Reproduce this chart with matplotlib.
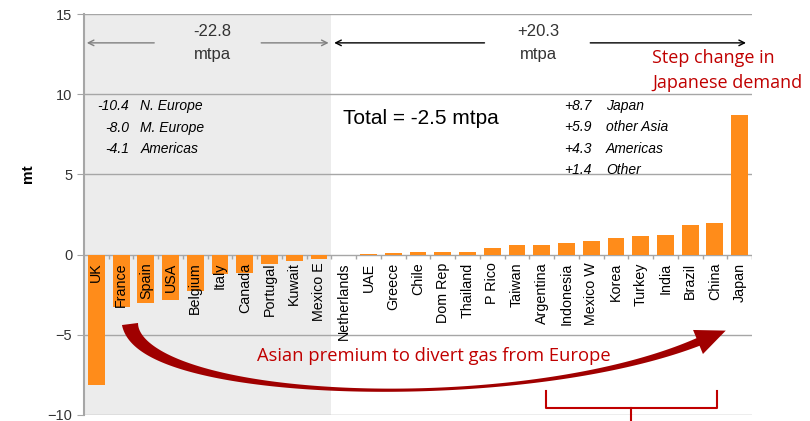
import matplotlib
matplotlib.use("Agg")
import matplotlib.pyplot as plt
import numpy as np
from matplotlib.patches import Polygon

plt.rcParams['font.family'] = ['Liberation Sans', 'DejaVu Sans']

countries = ['UK', 'France', 'Spain', 'USA', 'Belgium', 'Italy', 'Canada', 'Portugal',
             'Kuwait', 'Mexico E', 'Netherlands', 'UAE', 'Greece', 'Chile', 'Dom Rep',
             'Thailand', 'P Rico', 'Taiwan', 'Argentina', 'Indonesia', 'Mexico W', 'Korea',
             'Turkey', 'India', 'Brazil', 'China', 'Japan']
change = [-8.1, -3.25, -3.0, -2.8, -2.3, -1.2, -1.15, -0.6, -0.37, -0.27, 0.0, 0.05, 0.1,
          0.19, 0.19, 0.19, 0.42, 0.58, 0.58, 0.7, 0.83, 1.02, 1.15, 1.25, 1.87, 1.95, 8.7]
yticks = [15, 10, 5, 0, -5, -10]
loss_rows = [('-10.4', 'N. Europe'), ('-8.0', 'M. Europe'), ('-4.1', 'Americas')]
gain_rows = [('+8.7', 'Japan'), ('+5.9', 'other Asia'), ('+4.3', 'Americas'), ('+1.4', 'Other')]

grey = '#a6a6a6'
orange = '#FF8C1A'
red = '#c00000'

fig = plt.figure(figsize=(8.1, 4.21), dpi=100)
ax = fig.add_axes([84/810, 1-415/421, (752-84)/810, (415-14)/421])

x = np.arange(len(countries))
n_loss = sum(1 for v in change if v < 0)
ax.axvspan(-0.5, n_loss - 0.5, color='#ececec', zorder=0, lw=0)
for t in yticks:
    ax.axhline(t, color=grey, lw=1, zorder=1)
ax.bar(x, change, width=0.68, color=orange, zorder=2)
ax.vlines(x + 0.5, 0, -0.3, color=grey, lw=1, zorder=1)

for xi, name in zip(x, countries):
    ax.text(xi, -0.5, name, rotation=90, ha='center', va='top', fontsize=10.3, zorder=3)

ax.set_xlim(-0.5, len(countries) - 0.5)
ax.set_ylim(-10, 15)
ax.set_yticks(yticks)
ax.set_xticks([])
ax.tick_params(axis='y', colors=grey, labelcolor='#333333', labelsize=10.5, length=5)
for s in ['top', 'right', 'bottom']:
    ax.spines[s].set_visible(False)
ax.spines['left'].set_color(grey)
ax.spines['left'].set_linewidth(1.5)

# top span arrows
ay = 13.2
ax.annotate('', xy=(-0.5, ay), xytext=(2.45, ay),
            arrowprops=dict(arrowstyle='->', color='#808080', lw=1))
ax.annotate('', xy=(n_loss - 0.5, ay), xytext=(6.55, ay),
            arrowprops=dict(arrowstyle='->', color='#808080', lw=1))
ax.annotate('', xy=(n_loss - 0.5, ay), xytext=(15.8, ay),
            arrowprops=dict(arrowstyle='->', color='black', lw=1))
ax.annotate('', xy=(26.37, ay), xytext=(19.85, ay),
            arrowprops=dict(arrowstyle='->', color='black', lw=1))
ax.text(4.7, 13.9, '-22.8', ha='center', va='center', fontsize=12, color='#333333')
ax.text(4.7, 12.45, 'mtpa', ha='center', va='center', fontsize=12, color='#333333')
ax.text(17.85, 13.9, '+20.3', ha='center', va='center', fontsize=12, color='#333333')
ax.text(17.85, 12.45, 'mtpa', ha='center', va='center', fontsize=12, color='#333333')

ax.text(9.98, 8.5, 'Total = -2.5 mtpa', ha='left', va='center', fontsize=15)

for i, (v, lab) in enumerate(loss_rows):
    yy = 9.25 - i * 1.34
    ax.text(1.34, yy, v, ha='right', va='center', fontsize=10, style='italic')
    ax.text(1.78, yy, lab, ha='left', va='center', fontsize=10, style='italic')
for i, (v, lab) in enumerate(gain_rows):
    yy = 9.25 - i * 1.32
    ax.text(18.9, yy, v, ha='left', va='center', fontsize=10, style='italic')
    ax.text(20.6, yy, lab, ha='left', va='center', fontsize=10, style='italic')

fig.text(28/810, 1-174/421, 'mt', rotation=90, ha='center', va='center',
         fontsize=11, fontweight='bold')

fig.text(652/810, 1-58/421, 'Step change in', color=red, fontsize=13,
         family='Open Sans', ha='left', va='center')
fig.text(652/810, 1-83/421, 'Japanese demand', color=red, fontsize=13,
         family='Open Sans', ha='left', va='center')

ax.text(13.63, -6.3, 'Asian premium to divert gas from Europe', color=red, fontsize=13.2,
        family='Open Sans', ha='center', va='center', zorder=4)

# bracket
bx0, bx1, bxm = 18.17, 25.1, 21.6
ax.plot([bx0, bx0, bx1, bx1], [-8.5, -9.56, -9.56, -8.5], color=red, lw=1.5,
        clip_on=False, zorder=4)
ax.plot([bxm, bxm], [-9.56, -10.45], color=red, lw=1.5, clip_on=False, zorder=4)

# tapered curved arrow, built in pixel space
P = np.array([[130, 324], [140, 402], [520, 415], [698, 342]], float)
t = np.linspace(0, 1, 200)[:, None]
c = ((1-t)**3)*P[0] + 3*((1-t)**2)*t*P[1] + 3*(1-t)*(t**2)*P[2] + (t**3)*P[3]
d = 3*((1-t)**2)*(P[1]-P[0]) + 6*(1-t)*t*(P[2]-P[1]) + 3*(t**2)*(P[3]-P[2])
d = d / np.linalg.norm(d, axis=1)[:, None]
nrm = np.column_stack([-d[:, 1], d[:, 0]])
w = (15*(1-t)**3 + 1.2 + 7*t**4)
upper = c + nrm * w / 2
lower = c - nrm * w / 2
end_dir = d[-1]
end_n = nrm[-1]
tip = P[3] + end_dir * 30
head = [P[3] + end_n * 13, tip, P[3] - end_n * 13]
pts = np.vstack([upper, head, lower[::-1]])
pts_fig = np.column_stack([pts[:, 0] / 810, 1 - pts[:, 1] / 421])
fig.patches.append(Polygon(pts_fig, closed=True, transform=fig.transFigure,
                           facecolor='#a00000', edgecolor='none', zorder=5))

fig.savefig('out.png', dpi=100)
